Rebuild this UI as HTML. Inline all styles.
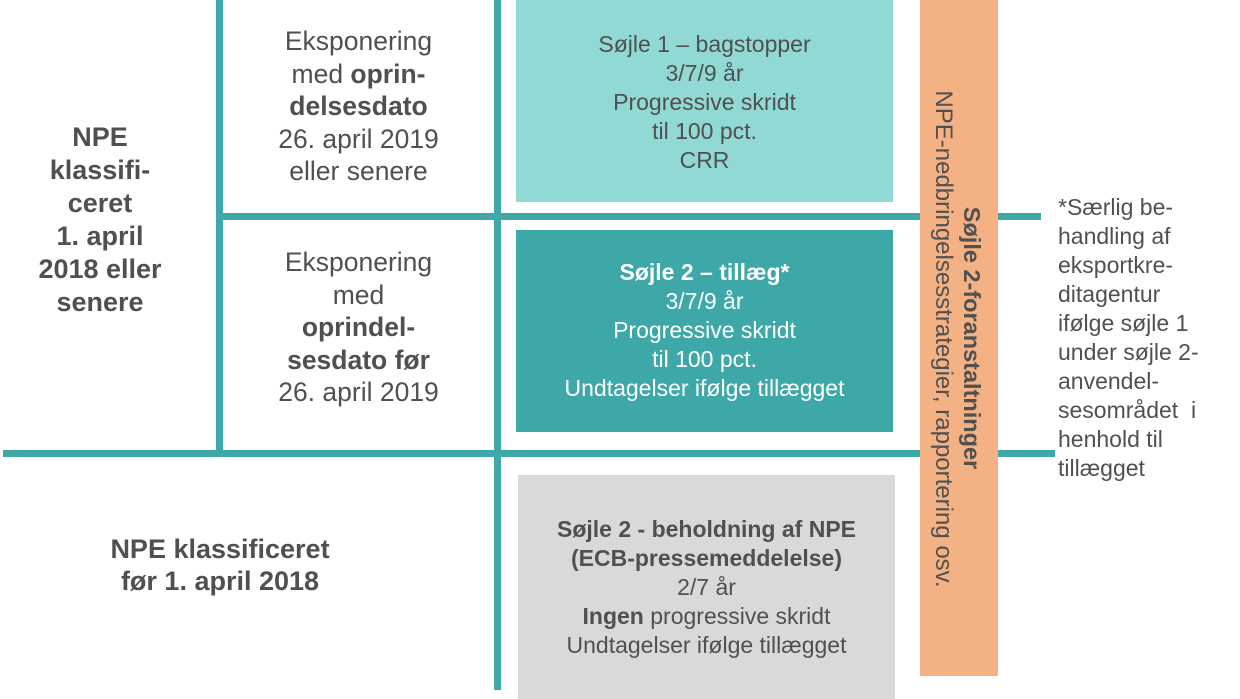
<!DOCTYPE html>
<html><head><meta charset="utf-8"><style>
body{margin:0;width:1240px;height:699px;position:relative;background:#fff;font-family:"Liberation Sans",sans-serif;color:#505050;overflow:hidden}
.a{position:absolute}
.l{background:#3fa8a8;position:absolute}
.t{position:absolute;text-align:center;display:flex;flex-direction:column;justify-content:center;align-items:center;white-space:nowrap}
b{font-weight:bold}
</style></head><body>
<div class="a" style="left:516px;top:0;width:377px;height:202px;background:#90d9d4"></div>
<div class="a" style="left:516px;top:230px;width:377px;height:202px;background:#3ea8a8"></div>
<div class="a" style="left:518px;top:475px;width:377px;height:224px;background:#d9d9d9"></div>
<div class="l" style="left:216px;top:0;width:7px;height:452px"></div>
<div class="l" style="left:494px;top:0;width:7px;height:690px"></div>
<div class="l" style="left:216px;top:213px;width:825px;height:7px"></div>
<div class="l" style="left:3px;top:450px;width:1052px;height:7px"></div>
<div class="a" style="left:920px;top:0;width:78px;height:676px;background:#f4b183"></div>
<div class="t" style="left:-8px;top:120px;width:216px;height:200px;font-size:27px;font-weight:bold;line-height:33px">NPE<br>klassifi-<br>ceret<br>1. april<br>2018 eller<br>senere</div>
<div class="t" style="left:223px;top:24px;width:271px;height:165px;font-size:26.5px;line-height:32.5px">Eksponering<br><span>med <b>oprin-</b></span><b>delsesdato</b>26. april 2019<br>eller senere</div>
<div class="t" style="left:223px;top:245px;width:271px;height:165px;font-size:26.5px;line-height:32.5px">Eksponering<br>med<br><b>oprindel-</b><b>sesdato før</b>26. april 2019</div>
<div class="t" style="left:516px;top:30px;width:377px;height:145px;font-size:23px;line-height:29px">Søjle 1 – bagstopper<br>3/7/9 år<br>Progressive skridt<br>til 100 pct.<br>CRR</div>
<div class="t" style="left:516px;top:258px;width:377px;height:145px;font-size:23px;line-height:29px;color:#fff"><b>Søjle 2 – tillæg*</b>3/7/9 år<br>Progressive skridt<br>til 100 pct.<br>Undtagelser ifølge tillægget</div>
<div class="t" style="left:518px;top:512px;width:377px;height:150px;font-size:23px;line-height:29px"><b>Søjle 2 - beholdning af NPE</b><b>(ECB-pressemeddelelse)</b>2/7 år<br><span><b>Ingen</b> progressive skridt</span>Undtagelser ifølge tillægget</div>
<div class="t" style="left:80px;top:530px;width:280px;height:70px;font-size:27px;font-weight:bold;line-height:32px">NPE klassificeret<br>før 1. april 2018</div>
<div class="a" style="left:972px;top:338px;width:0;height:0"><div style="position:absolute;left:-340px;top:-14px;width:680px;height:28px;transform:rotate(90deg);text-align:center;font-size:23.5px;line-height:28px;white-space:nowrap;font-weight:bold">Søjle 2-foranstaltninger</div></div>
<div class="a" style="left:943px;top:339px;width:0;height:0"><div style="position:absolute;left:-340px;top:-14px;width:680px;height:28px;transform:rotate(90deg);text-align:center;font-size:24px;line-height:28px;white-space:nowrap">NPE-nedbringelsesstrategier, rapportering osv.</div></div>
<div class="a" style="left:1058px;top:193px;font-size:23px;line-height:29px;white-space:nowrap">*Særlig be-<br>handling af<br>eksportkre-<br>ditagentur<br>ifølge søjle 1<br>under søjle 2-<br>anvendel-<br>sesområdet &nbsp;i<br>henhold til<br>tillægget</div>
</body></html>
